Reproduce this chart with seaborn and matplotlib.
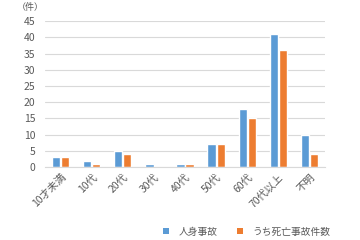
import matplotlib
matplotlib.use("Agg")
import matplotlib.pyplot as plt
import seaborn as sns
import pandas as pd
from matplotlib.patches import Patch

categories = ["10才未満", "10代", "20代", "30代", "40代", "50代", "60代", "70代以上", "不明"]
injury = [3, 2, 5, 1, 1, 7, 18, 41, 10]
fatal = [3, 1, 4, 0, 1, 7, 15, 36, 4]
series_names = ["人身事故", "うち死亡事故件数"]
colors = ["#5B9BD5", "#ED7D31"]

df = pd.DataFrame({
    "category": categories * 2,
    "count": injury + fatal,
    "series": [series_names[0]] * len(categories) + [series_names[1]] * len(categories),
})

sns.set_theme(style="white")
plt.rcParams["font.family"] = ["Noto Sans CJK JP", "DejaVu Sans"]

fig = plt.figure(figsize=(3.6, 2.4), dpi=100)
ax = fig.add_axes([0.125, 0.304, 0.778, 0.608])

sns.barplot(data=df, x="category", y="count", hue="series", order=categories,
            hue_order=series_names, palette=colors, width=0.58, gap=0.08,
            saturation=1, ax=ax, legend=False)

ax.set_ylim(0, 45)
ax.set_yticks(range(0, 46, 5))
ax.set_xlim(-0.5, len(categories) - 0.5)
ax.yaxis.grid(True, color="#D9D9D9", linewidth=0.8)
ax.set_axisbelow(True)
for s in ["top", "right", "left"]:
    ax.spines[s].set_visible(False)
ax.spines["bottom"].set_color("#D9D9D9")
ax.spines["bottom"].set_linewidth(0.8)
ax.set_xlabel("")
ax.set_ylabel("")
ax.tick_params(axis="both", length=0, colors="#595959", labelsize=7.5)
ax.tick_params(axis="y", pad=7)
for lbl in ax.get_xticklabels():
    lbl.set_rotation(45)
    lbl.set_ha("right")
    lbl.set_rotation_mode("anchor")

fig.text(0.085, 0.97, "（件）", fontsize=6.5, color="#595959", ha="center", va="center")

handles = [Patch(facecolor=c, edgecolor="none") for c in colors]
fig.legend(handles, series_names, loc="center", bbox_to_anchor=(0.685, 0.035),
           ncol=2, frameon=False, fontsize=7, handlelength=0.6, handleheight=0.6,
           columnspacing=2.0, handletextpad=1.0, labelcolor="#595959")

fig.savefig("out.png", dpi=100)
